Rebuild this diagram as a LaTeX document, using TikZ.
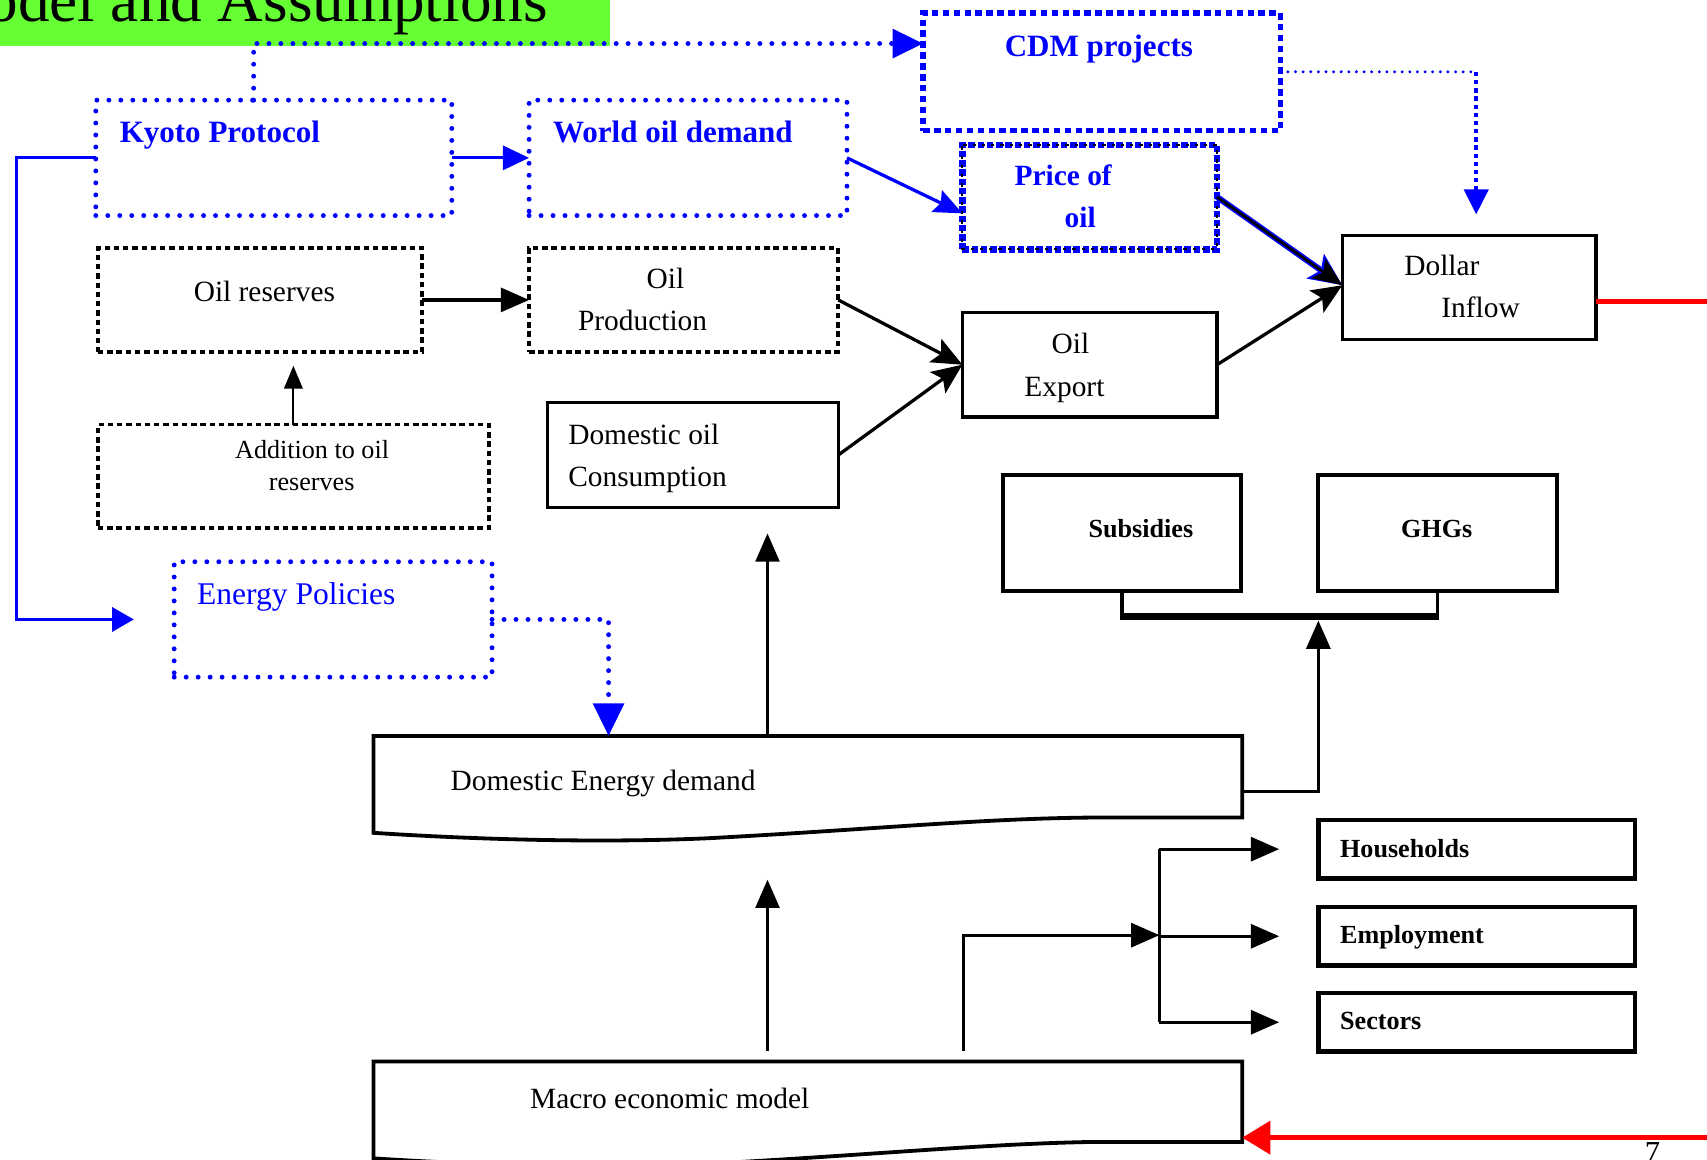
\documentclass[tikz,border=0pt]{standalone}
\usepackage{fontspec}
\setmainfont{Liberation Serif}
\usetikzlibrary{arrows.meta,calc}
\newcommand\fsz[1]{\fontsize{#1pt}{#1pt}\selectfont}
\definecolor{bannergreen}{RGB}{102,255,51}
\definecolor{pblue}{RGB}{0,0,255}
\definecolor{pred}{RGB}{255,0,0}
\begin{document}
\begin{tikzpicture}[x=1pt,y=-1pt,
  every node/.style={inner sep=0pt, outer sep=0pt},
  solidbox/.style={draw=black, line width=3pt},
  thickbox/.style={draw=black, line width=4pt},
  dashbox/.style={draw=black, line width=3.5pt, dash pattern=on 5pt off 3.5pt},
  dotbox/.style={draw=pblue, line width=4.5pt, line cap=round, dash pattern=on 0pt off 11pt},
  cdmbox/.style={draw=pblue, line width=5pt, dash pattern=on 6pt off 4pt},
  txt/.style={anchor=base west, font=\fsz{27}},
  btxt/.style={anchor=base west, font=\fsz{28.5}\bfseries, text=pblue},
  ktxt/.style={anchor=base west, font=\fsz{24}\bfseries},
  arrA/.style={-{Triangle[length=26pt,width=22pt]}},
  arrS/.style={-{Triangle[length=21pt,width=17pt]}},
  arrD/.style={-{Stealth[length=28pt,width=24pt,inset=6pt]}},
  bline/.style={draw=pblue, line width=3pt},
  bdots/.style={draw=pblue, line width=4.5pt, line cap=round, dash pattern=on 0pt off 11pt},
  kline/.style={draw=black, line width=3pt},
  shapeline/.style={draw=black, line width=3.5pt, line join=miter}
]
\path[use as bounding box] (0,0) rectangle (1568,1065);
\clip (0,0) rectangle (1568,1065);

% banner
\node[fill=bannergreen, minimum width=560, minimum height=42, anchor=north west] (banner) at (0,0) {};
\node[anchor=base west, font=\fsz{58}] (title) at (-64,20) {Model and Assumptions};

% blue boxes
\node[dotbox, minimum width=327, minimum height=106] (kyoto) at (251.5,145) {};
\node[btxt] (kyotot) at (110,131) {Kyoto Protocol};
\node[dotbox, minimum width=292, minimum height=106] (wod) at (632,145) {};
\node[btxt] (wodt) at (508,131) {World oil demand};
\node[cdmbox, minimum width=328, minimum height=108] (cdm) at (1012,66) {};
\node[btxt] (cdmt) at (923,52) {CDM projects};
\node[draw=pblue, line width=6pt, dash pattern=on 6pt off 2.5pt, minimum width=234, minimum height=96] (price) at (1001,181) {};
\draw[black, line width=2pt, dash pattern=on 3pt off 5.5pt, dash phase=7pt] (price.north west) rectangle (price.south east);
\node[btxt, font=\fsz{27}\bfseries] (pricet1) at (932,170) {Price of};
\node[btxt, font=\fsz{27}\bfseries] (pricet2) at (978,209) {oil};
\node[dotbox, minimum width=292, minimum height=106] (policies) at (306,569) {};
\node[anchor=base west, font=\fsz{29}, text=pblue] (policiest) at (181,555) {Energy Policies};

% black boxes
\node[solidbox, minimum width=233, minimum height=96] (dollar) at (1349.5,264) {};
\node[txt] (dollart1) at (1290,253) {Dollar};
\node[txt] (dollart2) at (1324,292) {Inflow};
\node[dashbox, minimum width=298, minimum height=95] (reserves) at (239,275.5) {};
\node[txt] (reservest) at (178,277) {Oil reserves};
\node[dashbox, minimum width=284, minimum height=95] (prod) at (628,275.5) {};
\node[txt] (prodt1) at (594,265) {Oil};
\node[txt] (prodt2) at (531,304) {Production};
\node[dashbox, minimum width=359, minimum height=95] (addition) at (269.5,437.5) {};
\node[txt, font=\fsz{24}] (additiont1) at (216,421) {Addition to oil};
\node[txt, font=\fsz{24}] (additiont2) at (247,451) {reserves};
\node[solidbox, minimum width=267, minimum height=96] (consumption) at (636.5,418) {};
\node[txt] (consumptiont1) at (522,408) {Domestic oil};
\node[txt] (consumptiont2) at (522,447) {Consumption};
\node[solidbox, minimum width=234, minimum height=96] (export) at (1001,335) {};
\node[txt] (exportt1) at (966,325) {Oil};
\node[txt] (exportt2) at (941,364) {Export};
\node[solidbox, line width=3.5pt, minimum width=219, minimum height=107] (subsidies) at (1030.5,489.5) {};
\node[ktxt] (subsidiest) at (1000,494) {Subsidies};
\node[solidbox, line width=3.5pt, minimum width=219, minimum height=107] (ghgs) at (1320.5,489.5) {};
\node[ktxt] (ghgst) at (1287,494) {GHGs};
\node[thickbox, minimum width=291, minimum height=54] (households) at (1356.5,780) {};
\node[ktxt] (householdst) at (1231,788) {Households};
\node[thickbox, minimum width=291, minimum height=54] (employment) at (1356.5,860) {};
\node[ktxt] (employmentt) at (1231,867) {Employment};
\node[thickbox, minimum width=291, minimum height=54] (sectors) at (1356.5,939) {};
\node[ktxt] (sectorst) at (1231,946) {Sectors};

% document shapes
\node[minimum width=798, minimum height=75] (demand) at (742,713.5) {};
\draw[shapeline] (1000,751) -- (demand.south east) -- (demand.north east) -- (demand.north west) -- (343,765)
  .. controls (450,772) and (560,774) .. (650,770) .. controls (800,762) and (900,752) .. (1000,751);
\node[txt] (demandt) at (414,726) {Domestic Energy demand};
\node[minimum width=798, minimum height=74] (macro) at (742,1012) {};
\draw[shapeline] (1000,1049) -- (macro.south east) -- (macro.north east) -- (macro.north west) -- (343,1064)
  .. controls (450,1071) and (560,1073) .. (650,1069) .. controls (800,1061) and (900,1051) .. (1000,1049);
\node[txt] (macrot) at (487,1018) {Macro economic model};

\coordinate (brk) at (1211,570);
\coordinate (jn) at (1065,859);
\coordinate (cdmend) at ([xshift=6.5pt,yshift=19pt]dollar.north);
\coordinate (cdmcorner) at (cdm.east -| cdmend);

% blue connectors
\draw[bdots, -{Triangle[length=28pt,width=26pt]}] ([xshift=-18.5pt]kyoto.north) |- ([yshift=26pt]cdm.west);
\draw[draw=pblue, line width=3pt, line cap=round, dash pattern=on 0pt off 7pt] (cdm.east) -- (cdmcorner);
\draw[draw=pblue, line width=4pt, dash pattern=on 4pt off 3.5pt, -{Triangle[length=23pt,width=22pt]}] (cdmcorner) -- (cdmend);
\draw[bline, -{Triangle[length=24pt,width=22pt]}] (kyoto.east) -- (wod.west);
\draw[bline, -{Stealth[length=26pt,width=22pt,inset=4pt]}] (wod.east) -- ([yshift=-15pt]price.west);
\draw[bline, -{Triangle[length=20pt,width=22pt]}] (kyoto.west) -- ++(-73,0) |- ([xshift=-37pt]policies.west);
\draw[bdots, -{Triangle[length=30pt,width=28pt]}] (policies.east) -| ([xshift=216pt]demand.north west);

% black connectors
\draw[pblue, line width=5.5pt, -{Stealth[length=30pt,width=27pt,inset=6pt]}] (price.east) -- ([yshift=2pt]dollar.west);
\draw[black, line width=2.5pt, -{Stealth[length=27pt,width=22pt,inset=6pt]}] (price.east) -- ([yshift=2pt]dollar.west);
\draw[kline, arrD] (export.east) -- ([yshift=2pt]dollar.west);
\draw[kline, arrA] (reserves.east) -- (prod.west);
\draw[kline, arrD] (prod.east) -- (export.west);
\draw[kline, arrD] (consumption.east) -- (export.west);
\draw[black, line width=2pt, arrS] (addition.north) -- ++(0,-54);
\draw[black, line width=2.5pt, arrA] ([xshift=362pt]demand.north west) -- ++(0,-186);
\draw[kline, arrA] ([yshift=-13.5pt]demand.east) -| (brk);
\draw[black, line width=3.5pt] (subsidies.south) -- ++(0,25) -| (ghgs.south);
\draw[black, line width=5pt] ([yshift=-23pt]subsidies.south) -- ([yshift=-23pt]ghgs.south);
\draw[black, line width=2.5pt, arrA] ([xshift=362pt,yshift=10pt]macro.north west) -- ++(0,-157);
\draw[kline, arrA] ([xshift=542pt,yshift=10pt]macro.north west) |- (jn);
\draw[black, line width=2.5pt] (jn |- households.west) -- (jn |- sectors.west);
\draw[kline, arrA] (jn |- households.west) -- ([xshift=-36pt]households.west);
\draw[kline, arrA] (jn |- employment.west) -- ([xshift=-36pt]employment.west);
\draw[kline, arrA] (jn |- sectors.west) -- ([xshift=-36pt]sectors.west);

% red connectors
\draw[pred, line width=4.5pt] ([yshift=-13pt]dollar.east) -- ++(110,0);
\draw[pred, line width=5pt, -{Triangle[length=26pt,width=30pt]}] (1572,1045) -- ([yshift=-33pt]macro.east);
\node[anchor=base, font=\fsz{28}] (pagenum) at (1518,1068) {7};
\end{tikzpicture}
\end{document}
